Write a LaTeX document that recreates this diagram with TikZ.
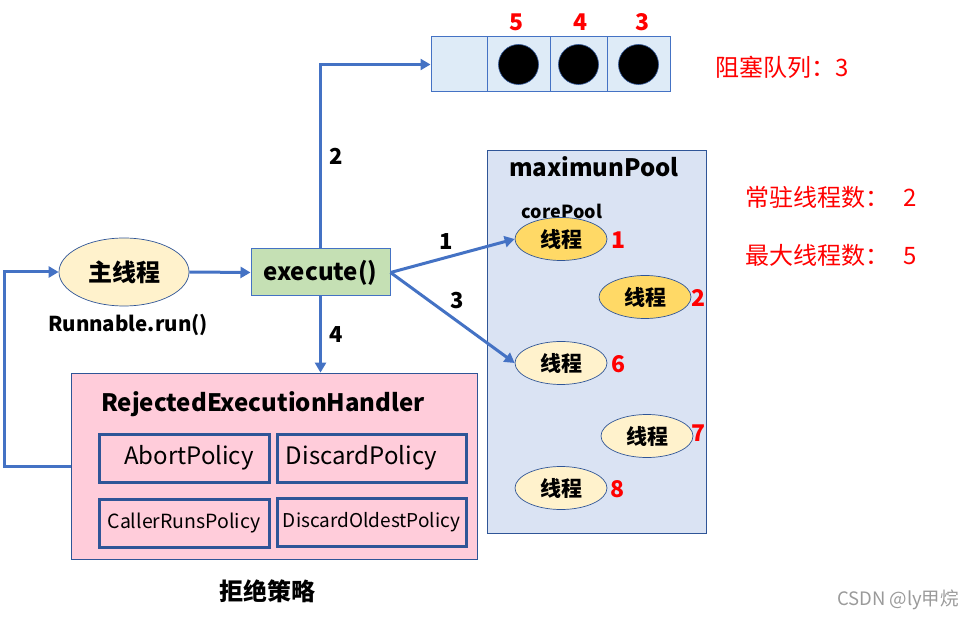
\documentclass[tikz,border=0pt]{standalone}
\usepackage{fontspec}
\setmainfont{Noto Sans CJK SC}
\usepackage{xcolor}
\usetikzlibrary{calc,arrows.meta,shapes.geometric,positioning}
\definecolor{flow}{HTML}{4472C4}
\definecolor{edge}{HTML}{2F5597}
\definecolor{qfill}{HTML}{DEEBF7}
\definecolor{poolfill}{HTML}{DAE3F3}
\definecolor{execfill}{HTML}{C5E0B4}
\definecolor{rejfill}{HTML}{FFCCDA}
\definecolor{core}{HTML}{FFD966}
\definecolor{light}{HTML}{FFF2CC}
\definecolor{alert}{HTML}{FF0000}
\definecolor{wmark}{HTML}{9A9A9A}
\newcommand{\fsz}[1]{\fontsize{#1}{#1}\selectfont}
\newcommand{\low}[1]{\raisebox{-3pt}{#1}}
\tikzset{
  conn/.style={draw=flow, line width=3pt, -{Triangle[length=10pt,width=11pt]}},
  cell/.style={draw=flow, fill=qfill, line width=1pt, minimum height=55, inner sep=0},
  ball/.style={circle, fill=black, draw=edge, line width=0.6pt, minimum size=40, inner sep=0},
  worker/.style={ellipse, draw=edge, line width=0.7pt, minimum width=92, minimum height=43, inner sep=0, font=\fsz{21}\bfseries},
  policy/.style={draw=edge, line width=3pt, inner sep=0, minimum height=48},
  num/.style={text=alert, font=\fsz{23}\bfseries},
  note/.style={text=alert, font=\fsz{24}},
  steplab/.style={font=\fsz{22}\bfseries},
}

\begin{document}
\begin{tikzpicture}[x=1pt,y=-1pt]
  \useasboundingbox (0,0) rectangle (975,620);

  % blocking queue
  \node[cell, minimum width=56] (q0) at (459,64.5) {};
  \node[cell, minimum width=63] (q1) at (518.5,64.5) {};
  \node[cell, minimum width=57] (q2) at (578.5,64.5) {};
  \node[cell, minimum width=63] (q3) at (638.5,64.5) {};
  \node[ball] (b1) at (q1) {};
  \node[ball] (b2) at (q2) {};
  \node[ball] (b3) at (q3) {};
  \node[num] (n5) at (516,22) {5};
  \node[num] (n4) at (580,22) {4};
  \node[num] (n3) at (642,22) {3};
  \node[note] (qtxt) at (782,67) {阻塞队列：3};

  % pool
  \node[draw=edge, fill=poolfill, line width=0.8pt, minimum width=219, minimum height=383, inner sep=0] (pool) at (596.5,341.5) {};
  \node[font=\fsz{24}\bfseries] (ptitle) at (594,167) {maximunPool};
  \node[font=\fsz{18}\bfseries] (ctitle) at (562,211) {corePool};
  \node[worker, fill=core] (t1) at (561,239) {线程};
  \node[worker, fill=core] (t2) at (645,297) {线程};
  \node[worker, fill=light] (t6) at (561,363) {线程};
  \node[worker, fill=light] (t7) at (647,436) {线程};
  \node[worker, fill=light] (t8) at (561,488) {线程};
  \node[num] (l1) at (618,240) {1};
  \node[num] (l2) at (698,298) {2};
  \node[num] (l6) at (618,364) {6};
  \node[num] (l7) at (698,433) {7};
  \node[num] (l8) at (617,489) {8};
  \node[note, anchor=west] (core) at (742,197) {常驻线程数：\hspace{14pt}2};
  \node[note, anchor=west] (max) at (742,255) {最大线程数：\hspace{14pt}5};

  % caller
  \node[ellipse, draw=edge, fill=light, line width=0.7pt, minimum width=130, minimum height=68, inner sep=0, font=\fsz{24}\bfseries] (main) at (124,272) {主线程};
  \node[font=\fsz{20.5}\bfseries] (run) at (128,325) {Runnable.run()};
  \node[draw=flow, fill=execfill, line width=1pt, minimum width=139, minimum height=47, inner sep=0, font=\fsz{24}\bfseries] (exec) at (320.5,272.5) {execute()};

  % rejection handler
  \node[draw=edge, fill=rejfill, line width=0.8pt, minimum width=406, minimum height=186, inner sep=0] (rej) at (274,466) {};
  \node[font=\fsz{24}\bfseries] (rtitle) at (263,404) {RejectedExecutionHandler};
  \node[policy, minimum width=170, font=\fsz{24}] (abort) at (184,458) {\low{\hspace{10pt}AbortPolicy}};
  \node[policy, minimum width=189, font=\fsz{24}] (discard) at (371.5,458) {\low{DiscardPolicy\hspace{20pt}}};
  \node[policy, minimum width=170, font=\fsz{19.5}] (caller) at (184,523.5) {\low{CallerRunsPolicy}};
  \node[policy, minimum width=189, font=\fsz{19}] (oldest) at (371.5,522.5) {DiscardOldestPolicy};
  \node[font=\fsz{24}\bfseries] (rname) at (267,591) {拒绝策略};

  % connectors
  \draw[conn] (main.east) -- (exec.west);
  \draw[conn] (exec.north) |- (q0.west) node[steplab, pos=0.25, right=4pt] {2};
  \draw[conn] (exec.east) -- (t1.west) node[steplab, pos=0.45, above=3pt] {1};
  \draw[conn] (exec.east) -- (t6.west) node[steplab, pos=0.5, above=4pt, xshift=5pt] {3};
  \draw[conn] (exec.south) -- (exec.south |- rej.north) node[steplab, midway, right=4pt] {4};
  \draw[conn] (rej.west) -- ++(-66,0) |- (main.west);

  \node[text=wmark, font=\fsz{18.5}] (csdn) at (898,600) {CSDN @ly甲烷};
\end{tikzpicture}
\end{document}
